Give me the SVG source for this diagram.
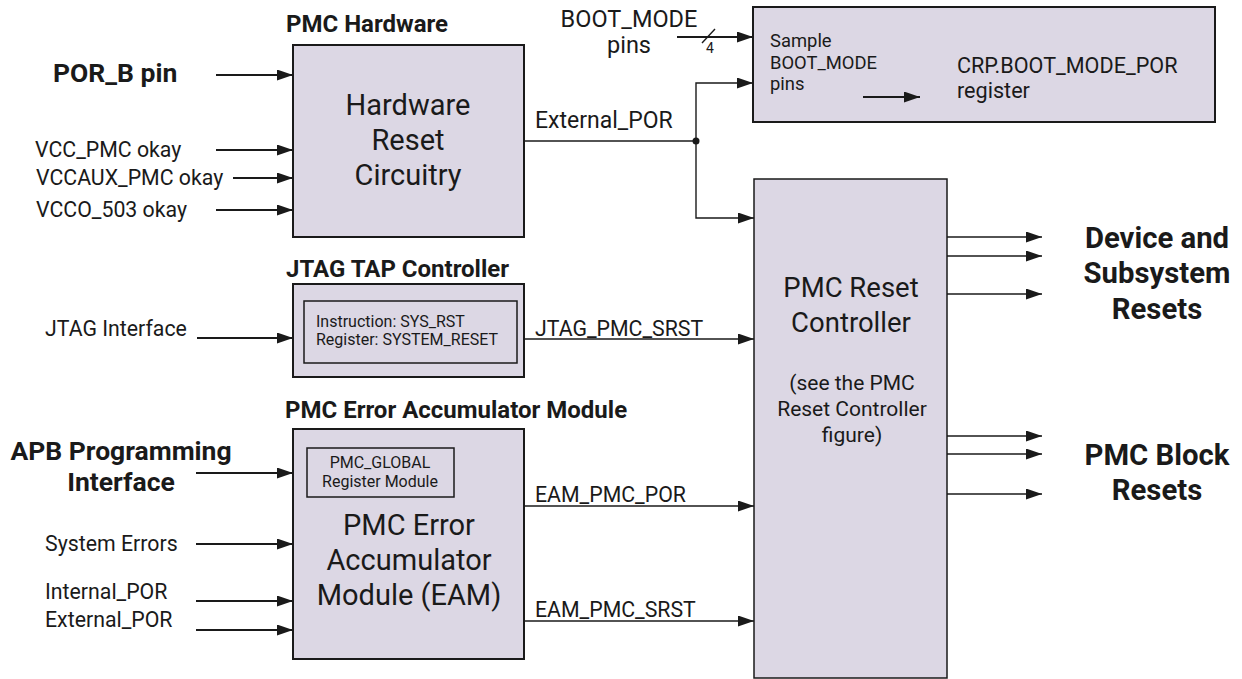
<svg xmlns="http://www.w3.org/2000/svg" width="1242" height="679" viewBox="0 0 1242 679">
<defs>
<style>
.t{font-family:Roboto,"Liberation Sans",sans-serif;fill:#1a1a1a}
.b{font-weight:bold}
.s21{font-size:21.3px}
.s16{font-size:16px}
.s18{font-size:18.4px}
.big{font-size:29px}
.hd{font-size:24px;font-weight:bold}
.lab{font-size:26.5px;font-weight:bold}
.out{font-size:29.3px;font-weight:bold}
.m{text-anchor:middle}
.box{fill:#dcd7e4;stroke:#1a1a1a;stroke-width:2}
.ibox{fill:none;stroke:#1a1a1a;stroke-width:1.5}
.w{fill:none;stroke:#1a1a1a;stroke-width:2}
.n{fill:none;stroke:#1a1a1a;stroke-width:1.4}
</style>
<marker id="ah" markerUnits="userSpaceOnUse" markerWidth="17" markerHeight="12" refX="16" refY="5.5" orient="auto">
<path d="M0,0 L16,5.5 L0,11 z" fill="#1a1a1a"/>
</marker>
</defs>
<rect width="1242" height="679" fill="#ffffff"/>

<g id="hardware">
<text class="t hd" x="286" y="32">PMC Hardware</text>
<rect class="box" x="293" y="45" width="231" height="192"/>
<text class="t big m" x="408" y="115">Hardware</text>
<text class="t big m" x="408" y="150">Reset</text>
<text class="t big m" x="408" y="185">Circuitry</text>
</g>

<g id="inputs-hw">
<text class="t lab" x="53" y="82">POR_B pin</text>
<text class="t s21" x="35" y="157">VCC_PMC okay</text>
<text class="t s21" x="36" y="185">VCCAUX_PMC okay</text>
<text class="t s21" x="36" y="217">VCCO_503 okay</text>
</g>

<g id="bootmode">
<rect class="box" x="753" y="7" width="462" height="115"/>
<text class="t s18" x="770" y="47">Sample</text>
<text class="t s18" x="770" y="69">BOOT_MODE</text>
<text class="t s18" x="770" y="90">pins</text>
<text class="t" font-size="21.6" x="957" y="73">CRP.BOOT_MODE_POR</text>
<text class="t" font-size="21.6" x="957" y="98">register</text>
</g>

<g id="bootmode-pins">
<text class="t m" font-size="23.5" x="629" y="27">BOOT_MODE</text>
<text class="t m" font-size="23.5" x="629" y="53">pins</text>
<text class="t m" x="710" y="53" font-size="14">4</text>
</g>

<g id="jtag">
<text class="t hd" x="286" y="277">JTAG TAP Controller</text>
<rect class="box" x="293" y="284" width="231" height="93"/>
<rect class="ibox" x="304" y="301" width="213" height="62"/>
<text class="t s16" x="316" y="327">Instruction: SYS_RST</text>
<text class="t s16" x="316" y="345">Register: SYSTEM_RESET</text>
</g>

<g id="jtag-input">
<text class="t s21" x="45" y="336">JTAG Interface</text>
</g>

<g id="eam">
<text class="t hd" x="285" y="418">PMC Error Accumulator Module</text>
<rect class="box" x="293" y="429" width="231" height="230"/>
<rect class="ibox" x="307" y="448" width="147" height="49"/>
<text class="t s16 m" x="380" y="468">PMC_GLOBAL</text>
<text class="t s16 m" x="380" y="487">Register Module</text>
<text class="t big m" x="409" y="535">PMC Error</text>
<text class="t big m" x="409" y="570">Accumulator</text>
<text class="t big m" x="409" y="605">Module (EAM)</text>
</g>

<g id="eam-inputs">
<text class="t lab m" x="121" y="460">APB Programming</text>
<text class="t lab m" x="121" y="491">Interface</text>
<text class="t s21" x="45" y="551">System Errors</text>
<text class="t s21" x="45" y="599">Internal_POR</text>
<text class="t s21" x="45" y="627">External_POR</text>
</g>

<g id="reset-controller">
<rect class="box" x="754" y="179" width="193" height="499" style="stroke-width:1.5"/>
<text class="t m" font-size="27.5" x="851" y="297">PMC Reset</text>
<text class="t m" font-size="27.5" x="851" y="332">Controller</text>
<text class="t m" font-size="21" x="852" y="390">(see the PMC</text>
<text class="t m" font-size="21" x="852" y="416">Reset Controller</text>
<text class="t m" font-size="21" x="852" y="442">figure)</text>
</g>

<g id="device-resets">
<text class="t out m" x="1157" y="248">Device and</text>
<text class="t out m" x="1157" y="283">Subsystem</text>
<text class="t out m" x="1157" y="319">Resets</text>
</g>

<g id="pmc-block-resets">
<text class="t out m" x="1157" y="465">PMC Block</text>
<text class="t out m" x="1157" y="500">Resets</text>
</g>

<g id="connectors">
<line class="w" x1="216" y1="75" x2="293" y2="75" marker-end="url(#ah)"/>
<line class="w" x1="216" y1="150" x2="293" y2="150" marker-end="url(#ah)"/>
<line class="w" x1="233" y1="178" x2="293" y2="178" marker-end="url(#ah)"/>
<line class="w" x1="216" y1="210" x2="293" y2="210" marker-end="url(#ah)"/>

<line class="n" x1="524" y1="141" x2="696" y2="141"/>
<circle cx="696" cy="141" r="3.5" fill="#1a1a1a"/>
<path class="n" d="M696,141 V83 H753" marker-end="url(#ah)"/>
<path class="n" d="M696,141 V218 H754" marker-end="url(#ah)"/>
<text class="t" font-size="23" x="535" y="128">External_POR</text>

<line class="w" x1="677" y1="37" x2="753" y2="37" marker-end="url(#ah)"/>
<line class="n" x1="702" y1="43" x2="715" y2="29"/>
<line class="w" x1="863" y1="97" x2="920" y2="97" marker-end="url(#ah)"/>

<line class="w" x1="197" y1="338" x2="293" y2="338" marker-end="url(#ah)"/>
<line class="n" x1="524" y1="339" x2="754" y2="339" marker-end="url(#ah)"/>
<text class="t s21" x="535" y="336">JTAG_PMC_SRST</text>

<line class="w" x1="196" y1="473" x2="293" y2="473" marker-end="url(#ah)"/>
<line class="w" x1="196" y1="544" x2="293" y2="544" marker-end="url(#ah)"/>
<line class="w" x1="196" y1="601" x2="293" y2="601" marker-end="url(#ah)"/>
<line class="w" x1="196" y1="630" x2="293" y2="630" marker-end="url(#ah)"/>

<line class="n" x1="524" y1="506" x2="754" y2="506" marker-end="url(#ah)"/>
<text class="t s21" x="535" y="502">EAM_PMC_POR</text>
<line class="n" x1="524" y1="621" x2="754" y2="621" marker-end="url(#ah)"/>
<text class="t s21" x="535" y="617">EAM_PMC_SRST</text>

<line class="n" x1="947" y1="237" x2="1042" y2="237" marker-end="url(#ah)"/>
<line class="n" x1="947" y1="256" x2="1042" y2="256" marker-end="url(#ah)"/>
<line class="n" x1="947" y1="294" x2="1042" y2="294" marker-end="url(#ah)"/>
<line class="n" x1="947" y1="436" x2="1042" y2="436" marker-end="url(#ah)"/>
<line class="n" x1="947" y1="454" x2="1042" y2="454" marker-end="url(#ah)"/>
<line class="n" x1="947" y1="494" x2="1042" y2="494" marker-end="url(#ah)"/>
</g>
</svg>
